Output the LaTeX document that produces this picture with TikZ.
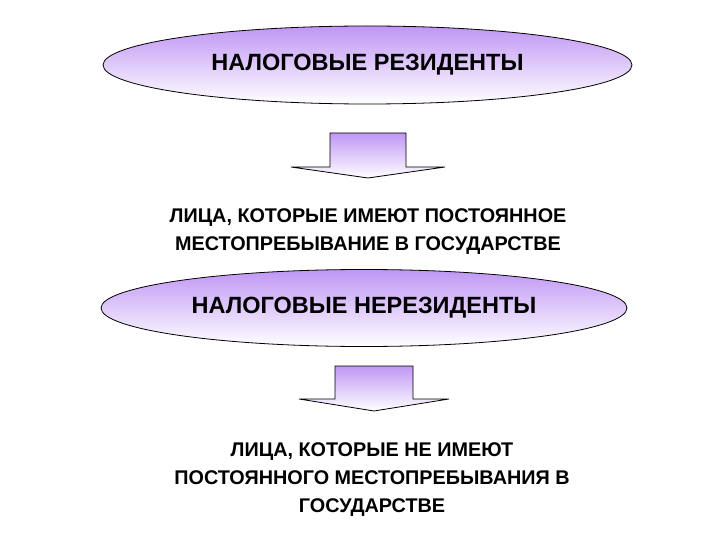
\documentclass[tikz,border=0pt]{standalone}
\usepackage{fontspec}
\setmainfont{Liberation Sans}
\usetikzlibrary{positioning, shapes.geometric}
\definecolor{lilac}{RGB}{192,150,245}

\begin{document}
\begin{tikzpicture}[x=1pt, y=-1pt,
  oval/.style={
    ellipse, inner sep=0pt,
    draw=black, line width=0.8pt,
    top color=lilac, % violet at the top...
    bottom color=white, % fading out to white below
    font=\fontsize{23.5}{26}\selectfont\bfseries
  },
  caption/.style={align=center, inner sep=0pt, font=\fontsize{19.8}{28}\selectfont\bfseries},
  pics/flatarrow/.style n args={4}{code={
    \path[draw=black, line width=0.8pt, top color=lilac, bottom color=white]
      (-#1,0) -- (#1,0) -- (#1,#2) -- (#3,#2) -- (0,#2+#4) -- (-#3,#2) -- (-#1,#2) -- cycle;
  }}
]
\useasboundingbox (0,0) rectangle (720,540);

\node [oval, minimum width=529, minimum height=78] (resid) at (367.5,65) {НАЛОГОВЫЕ РЕЗИДЕНТЫ};
\pic at (368,133) {flatarrow={38}{34}{77}{11}};
\node [caption] (residtext) at (368,232) {ЛИЦА, КОТОРЫЕ ИМЕЮТ ПОСТОЯННОЕ\\ МЕСТОПРЕБЫВАНИЕ В ГОСУДАРСТВЕ};

\node [oval, minimum width=526, minimum height=77] (nonresid) at (364,308) {НАЛОГОВЫЕ НЕРЕЗИДЕНТЫ};
\pic at (374,366) {flatarrow={39}{33}{75}{12}};
\node [caption] (nonresidtext) at (372,480) {ЛИЦА, КОТОРЫЕ НЕ ИМЕЮТ\\ ПОСТОЯННОГО МЕСТОПРЕБЫВАНИЯ В\\ ГОСУДАРСТВЕ};
\end{tikzpicture}
\end{document}
